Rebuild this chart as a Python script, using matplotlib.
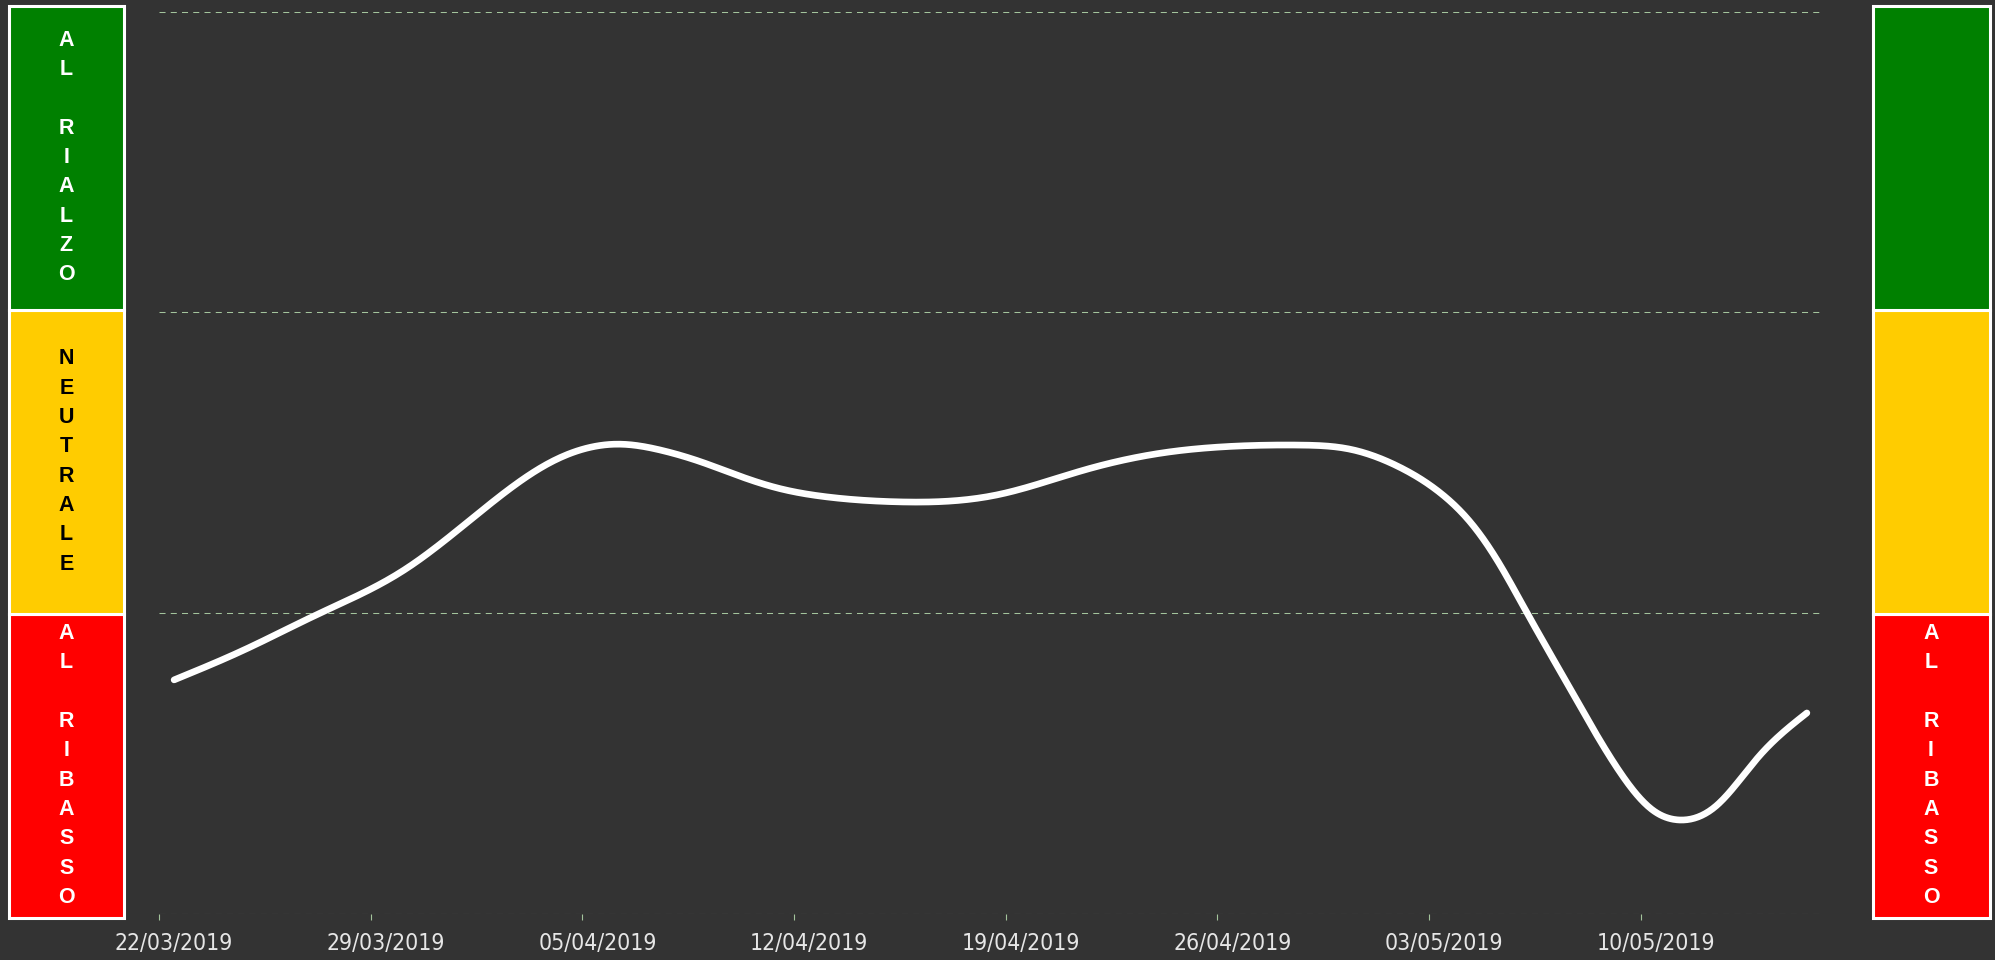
import numpy as np
import matplotlib
matplotlib.use("Agg")
import matplotlib.pyplot as plt

# ---- data ----
day_offsets = [0.5, 2.8, 5.2, 8.1, 10.7, 12.9, 15.2, 16.6, 17.9, 19.2, 20.5, 21.9,
               23.2, 24.5, 27.7, 30.6, 33.4, 35.0, 37.7, 39.4, 41.0, 42.4, 43.4,
               44.3, 45.2, 46.6, 48.2, 49.4, 50.3, 51.5, 52.9, 54.5]
values = [0.777, 0.876, 0.993, 1.142, 1.342, 1.498, 1.561, 1.541, 1.503, 1.455,
          1.414, 1.388, 1.375, 1.369, 1.392, 1.475, 1.535, 1.551, 1.558, 1.544,
          1.486, 1.397, 1.298, 1.168, 1.008, 0.760, 0.488, 0.344, 0.311, 0.358,
          0.521, 0.667]
tick_days = [0, 7, 14, 21, 28, 35, 42, 49]
tick_labels = ["22/03/2019", "29/03/2019", "05/04/2019", "12/04/2019",
               "19/04/2019", "26/04/2019", "03/05/2019", "10/05/2019"]
zone_labels = ["AL RIBASSO", "NEUTRALE", "AL RIALZO"]
zone_colors = ["#ff0000", "#ffcc00", "#008000"]
zone_text_colors = ["white", "black", "white"]
right_zone_labels = ["AL RIBASSO", "", ""]

BG = "#333333"
GRID = "#a3c49c"
W, H = 1995, 960


def natural_spline(x, y, n=30):
    """Smooth rendering (natural cubic spline) through the read points."""
    x = np.asarray(x, float); y = np.asarray(y, float)
    k = len(x); h = np.diff(x)
    A = np.zeros((k, k)); b = np.zeros(k)
    A[0, 0] = A[-1, -1] = 1.0
    for i in range(1, k - 1):
        A[i, i - 1] = h[i - 1]
        A[i, i] = 2 * (h[i - 1] + h[i])
        A[i, i + 1] = h[i]
        b[i] = 6 * ((y[i + 1] - y[i]) / h[i] - (y[i] - y[i - 1]) / h[i - 1])
    M = np.linalg.solve(A, b)
    ox, oy = [], []
    for i in range(k - 1):
        t = np.linspace(x[i], x[i + 1], n, endpoint=(i == k - 2))
        a = x[i + 1] - t; c = t - x[i]
        s = (M[i] * a ** 3 + M[i + 1] * c ** 3) / (6 * h[i]) \
            + (y[i] / h[i] - M[i] * h[i] / 6) * a \
            + (y[i + 1] / h[i] - M[i + 1] * h[i] / 6) * c
        ox.extend(t); oy.extend(s)
    return np.array(ox), np.array(oy)


fig = plt.figure(figsize=(W / 100, H / 100), dpi=100, facecolor=BG)

# main plot
ax = fig.add_axes([159 / W, (H - 913.5) / H, (1822 - 159) / W, (913.5 - 11.5) / H])
ax.set_facecolor(BG)
ax.set_xlim(0, 55)
ax.set_ylim(0, 3)
for s in ax.spines.values():
    s.set_visible(False)
for yv in range(4):
    ax.axhline(yv, color=GRID, lw=0.75, linestyle=(0, (5.8, 5.0)), zorder=1)
ax.set_yticks([])
ax.set_xticks(tick_days)
ax.set_xticklabels([])
ax.tick_params(axis="x", which="major", length=4, width=0.8, color=GRID, direction="out")
ax.set_xticks([d + 0.5 for d in tick_days], minor=True)
ax.set_xticklabels(tick_labels, minor=True)
ax.tick_params(axis="x", which="minor", length=0, pad=13, labelsize=16.5,
               labelcolor="#e6e6e6")
for lab in ax.get_xticklabels(minor=True):
    lab.set_family(["DejaVu Sans"])
    lab.set_fontstretch("condensed")

sx, sy = natural_spline(day_offsets, values)
ax.plot(sx, sy, color="white", lw=4.8, solid_capstyle="round", zorder=3)


def panel(x0, x1, labels):
    pa = fig.add_axes([x0 / W, (H - 917.5) / H, (x1 - x0) / W, (917.5 - 5.5) / H])
    pa.set_xlim(0, 1); pa.set_ylim(0, 3)
    pa.axis("off")
    for i, (c, tc, lab) in enumerate(zip(zone_colors, zone_text_colors, labels)):
        pa.bar(0.5, 1, bottom=i, width=1, color=c, edgecolor="white",
               linewidth=2.2, clip_on=False)
        if lab:
            pa.text(0.5, i + 0.5, "\n".join(lab), ha="center", va="center",
                    color=tc, fontsize=15.5, fontweight="bold",
                    family=["Liberation Sans", "DejaVu Sans"], linespacing=1.52)
    return pa


panel(8.5, 124.3, zone_labels)
panel(1872.5, 1989.5, right_zone_labels)

fig.savefig("out.png", dpi=100, facecolor=BG)
